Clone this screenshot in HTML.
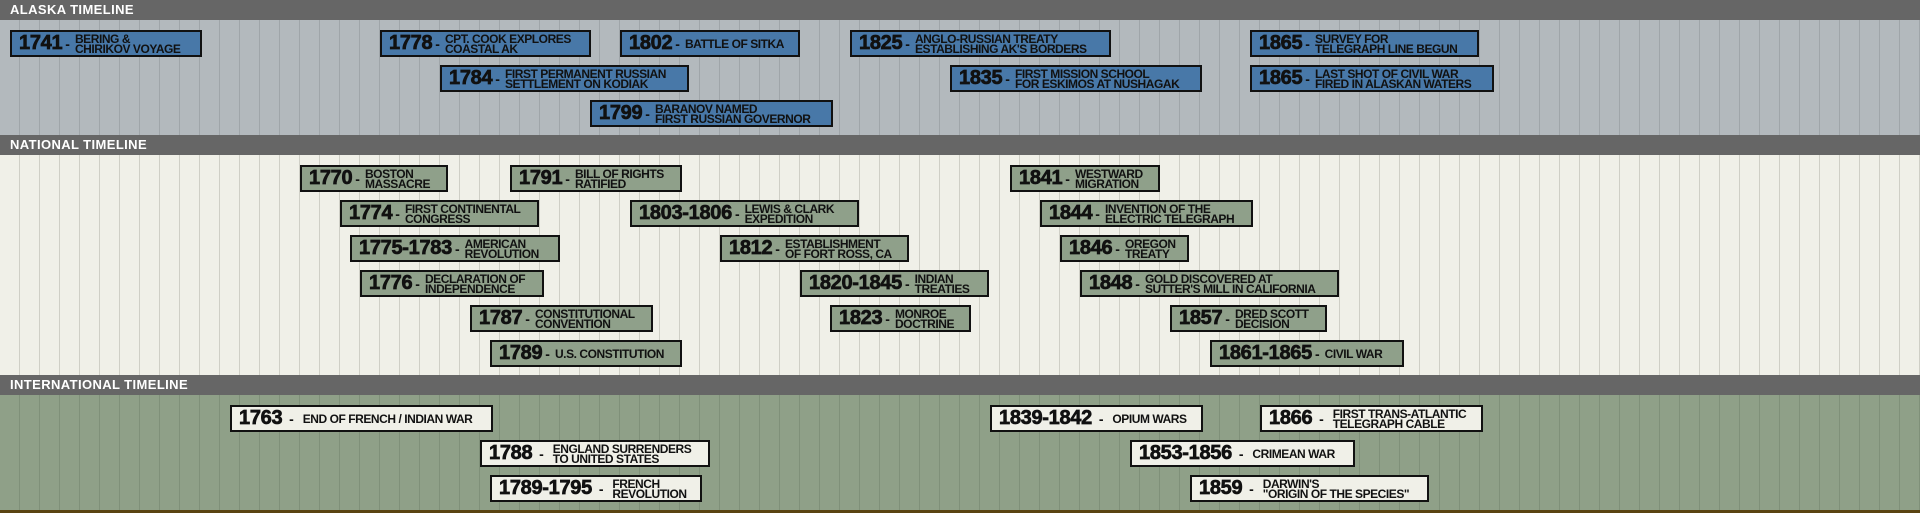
<!DOCTYPE html>
<html><head><meta charset="utf-8"><style>
*{margin:0;padding:0;box-sizing:border-box}
body{width:1920px;height:513px;position:relative;overflow:hidden;font-family:"Liberation Sans",Arial,sans-serif;background:#5a4412}
.hd{position:absolute;left:0;width:1920px;height:20px;background:#666;color:#fff;font-weight:bold;font-size:13px;line-height:20px;padding-left:10px;letter-spacing:0.4px}
.bd{position:absolute;left:0;width:1920px}
.ak{top:20px;height:115px;background:#b3b9bd repeating-linear-gradient(90deg,transparent 0,transparent 19px,#9fa5a9 19px,#9fa5a9 20px)}
.na{top:155px;height:220px;background:#f0f0e8 repeating-linear-gradient(90deg,transparent 0,transparent 19px,#cfcfc6 19px,#cfcfc6 20px)}
.in{top:395px;height:115px;background:#8fa088 repeating-linear-gradient(90deg,transparent 0,transparent 19px,#7f9079 19px,#7f9079 20px)}
.b{position:absolute;height:27px;border:2px solid #111;display:flex;align-items:center;padding-left:7px;color:#111;white-space:nowrap}
.b .y{font-weight:bold;font-size:20px;letter-spacing:-0.3px;-webkit-text-stroke:0.7px #111}
.b .s{font-weight:bold;font-size:14px;margin:0 5px 0 3px}
.b .d{font-weight:bold;font-size:12px;line-height:10px;letter-spacing:-0.45px}
.bl{background:#4878a8}
.gr{background:#8fa08a}
.wh{background:#f0f0e8}
</style></head><body>
<div class="hd" style="top:0">ALASKA TIMELINE</div>
<div class="bd ak"></div>
<div class="hd" style="top:135px">NATIONAL TIMELINE</div>
<div class="bd na"></div>
<div class="hd" style="top:375px">INTERNATIONAL TIMELINE</div>
<div class="bd in"></div>

<div class="b bl" style="left:10px;top:30px;width:192px"><span class="y">1741</span><span class="s">-</span><span class="d">BERING &amp;<br>CHIRIKOV VOYAGE</span></div>
<div class="b bl" style="left:380px;top:30px;width:211px"><span class="y">1778</span><span class="s">-</span><span class="d">CPT. COOK EXPLORES<br>COASTAL AK</span></div>
<div class="b bl" style="left:440px;top:65px;width:249px"><span class="y">1784</span><span class="s">-</span><span class="d">FIRST PERMANENT RUSSIAN<br>SETTLEMENT ON KODIAK</span></div>
<div class="b bl" style="left:590px;top:100px;width:243px"><span class="y">1799</span><span class="s">-</span><span class="d">BARANOV NAMED<br>FIRST RUSSIAN GOVERNOR</span></div>
<div class="b bl" style="left:620px;top:30px;width:180px"><span class="y">1802</span><span class="s">-</span><span class="d">BATTLE OF SITKA</span></div>
<div class="b bl" style="left:850px;top:30px;width:261px"><span class="y">1825</span><span class="s">-</span><span class="d">ANGLO-RUSSIAN TREATY<br>ESTABLISHING AK'S BORDERS</span></div>
<div class="b bl" style="left:950px;top:65px;width:252px"><span class="y">1835</span><span class="s">-</span><span class="d">FIRST MISSION SCHOOL<br>FOR ESKIMOS AT NUSHAGAK</span></div>
<div class="b bl" style="left:1250px;top:30px;width:229px"><span class="y">1865</span><span class="s">-</span><span class="d">SURVEY FOR<br>TELEGRAPH LINE BEGUN</span></div>
<div class="b bl" style="left:1250px;top:65px;width:244px"><span class="y">1865</span><span class="s">-</span><span class="d">LAST SHOT OF CIVIL WAR<br>FIRED IN ALASKAN WATERS</span></div>

<div class="b gr" style="left:300px;top:165px;width:148px"><span class="y">1770</span><span class="s">-</span><span class="d">BOSTON<br>MASSACRE</span></div>
<div class="b gr" style="left:510px;top:165px;width:172px"><span class="y">1791</span><span class="s">-</span><span class="d">BILL OF RIGHTS<br>RATIFIED</span></div>
<div class="b gr" style="left:340px;top:200px;width:199px"><span class="y">1774</span><span class="s">-</span><span class="d">FIRST CONTINENTAL<br>CONGRESS</span></div>
<div class="b gr" style="left:630px;top:200px;width:229px"><span class="y">1803-1806</span><span class="s">-</span><span class="d">LEWIS &amp; CLARK<br>EXPEDITION</span></div>
<div class="b gr" style="left:350px;top:235px;width:210px"><span class="y">1775-1783</span><span class="s">-</span><span class="d">AMERICAN<br>REVOLUTION</span></div>
<div class="b gr" style="left:720px;top:235px;width:189px"><span class="y">1812</span><span class="s">-</span><span class="d">ESTABLISHMENT<br>OF FORT ROSS, CA</span></div>
<div class="b gr" style="left:360px;top:270px;width:184px"><span class="y">1776</span><span class="s">-</span><span class="d">DECLARATION OF<br>INDEPENDENCE</span></div>
<div class="b gr" style="left:800px;top:270px;width:189px"><span class="y">1820-1845</span><span class="s">-</span><span class="d">INDIAN<br>TREATIES</span></div>
<div class="b gr" style="left:470px;top:305px;width:183px"><span class="y">1787</span><span class="s">-</span><span class="d">CONSTITUTIONAL<br>CONVENTION</span></div>
<div class="b gr" style="left:830px;top:305px;width:141px"><span class="y">1823</span><span class="s">-</span><span class="d">MONROE<br>DOCTRINE</span></div>
<div class="b gr" style="left:490px;top:340px;width:192px"><span class="y">1789</span><span class="s">-</span><span class="d">U.S. CONSTITUTION</span></div>
<div class="b gr" style="left:1010px;top:165px;width:150px"><span class="y">1841</span><span class="s">-</span><span class="d">WESTWARD<br>MIGRATION</span></div>
<div class="b gr" style="left:1040px;top:200px;width:213px"><span class="y">1844</span><span class="s">-</span><span class="d">INVENTION OF THE<br>ELECTRIC TELEGRAPH</span></div>
<div class="b gr" style="left:1060px;top:235px;width:129px"><span class="y">1846</span><span class="s">-</span><span class="d">OREGON<br>TREATY</span></div>
<div class="b gr" style="left:1080px;top:270px;width:259px"><span class="y">1848</span><span class="s">-</span><span class="d">GOLD DISCOVERED AT<br>SUTTER'S MILL IN CALIFORNIA</span></div>
<div class="b gr" style="left:1170px;top:305px;width:157px"><span class="y">1857</span><span class="s">-</span><span class="d">DRED SCOTT<br>DECISION</span></div>
<div class="b gr" style="left:1210px;top:340px;width:194px"><span class="y">1861-1865</span><span class="s">-</span><span class="d">CIVIL WAR</span></div>

<div class="b wh" style="left:230px;top:405px;width:263px"><span class="y">1763</span><span class="s">&nbsp;-&nbsp;</span><span class="d">END OF FRENCH / INDIAN WAR</span></div>
<div class="b wh" style="left:480px;top:440px;width:230px"><span class="y">1788</span><span class="s">&nbsp;-&nbsp;</span><span class="d">ENGLAND SURRENDERS<br>TO UNITED STATES</span></div>
<div class="b wh" style="left:490px;top:475px;width:212px"><span class="y">1789-1795</span><span class="s">&nbsp;-&nbsp;</span><span class="d">FRENCH<br>REVOLUTION</span></div>
<div class="b wh" style="left:990px;top:405px;width:213px"><span class="y">1839-1842</span><span class="s">&nbsp;-&nbsp;</span><span class="d">OPIUM WARS</span></div>
<div class="b wh" style="left:1260px;top:405px;width:223px"><span class="y">1866</span><span class="s">&nbsp;-&nbsp;</span><span class="d">FIRST TRANS-ATLANTIC<br>TELEGRAPH CABLE</span></div>
<div class="b wh" style="left:1130px;top:440px;width:225px"><span class="y">1853-1856</span><span class="s">&nbsp;-&nbsp;</span><span class="d">CRIMEAN WAR</span></div>
<div class="b wh" style="left:1190px;top:475px;width:239px"><span class="y">1859</span><span class="s">&nbsp;-&nbsp;</span><span class="d">DARWIN'S<br>"ORIGIN OF THE SPECIES"</span></div>
</body></html>
